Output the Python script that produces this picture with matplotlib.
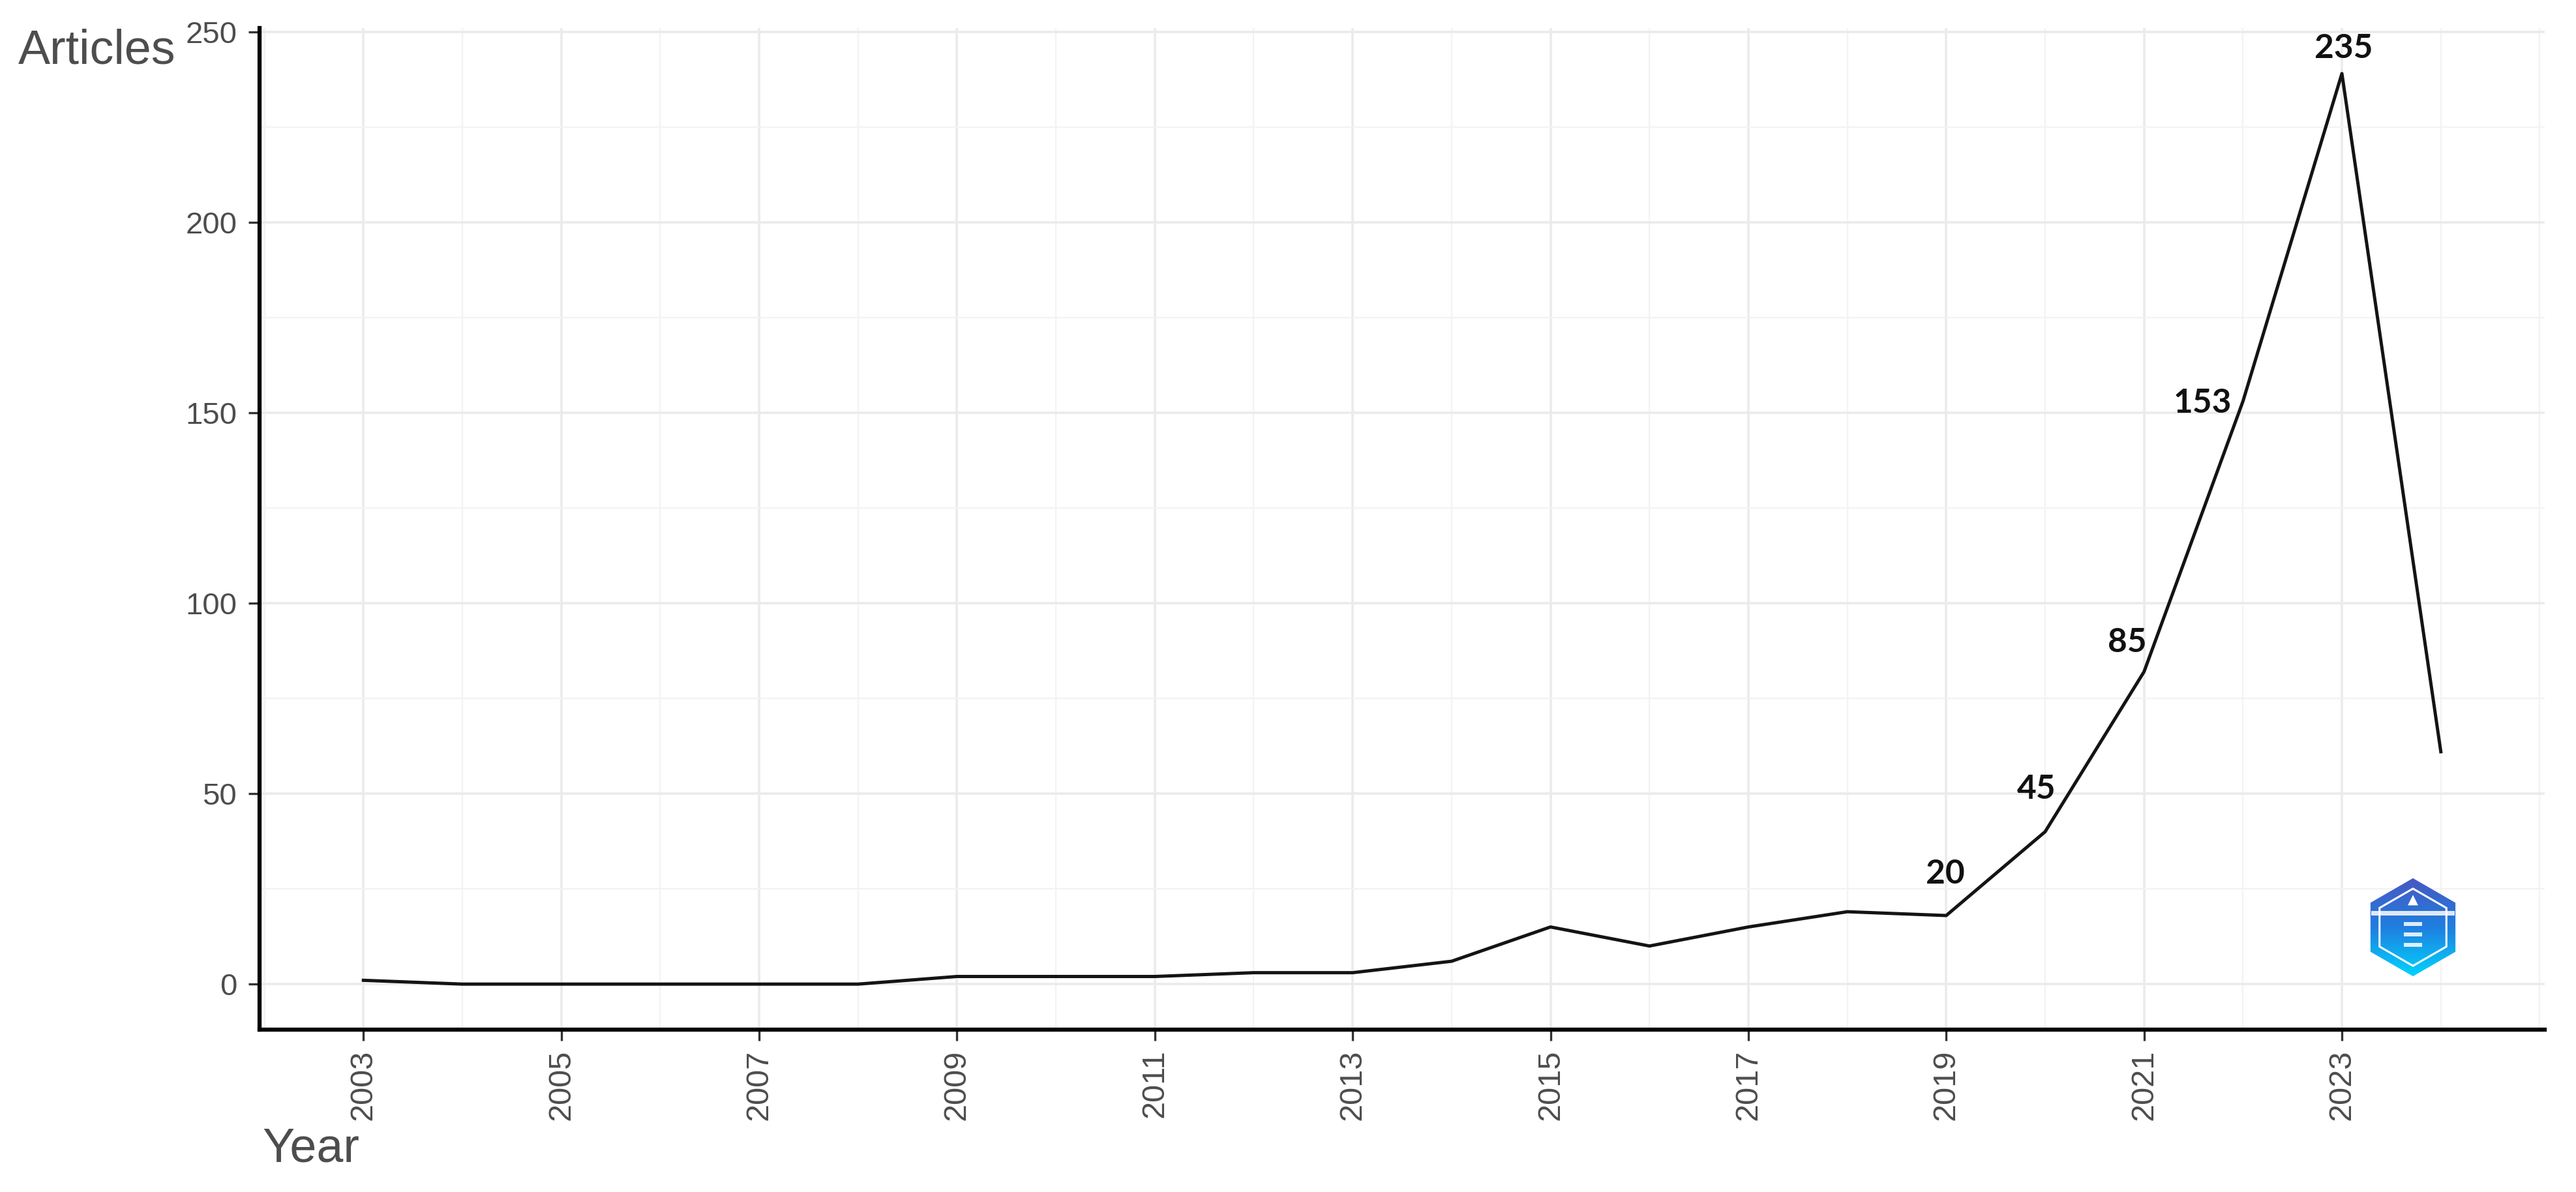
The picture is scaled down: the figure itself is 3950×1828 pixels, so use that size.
import numpy as np
import matplotlib
matplotlib.use("Agg")
import matplotlib.pyplot as plt
from matplotlib.patches import RegularPolygon, Polygon, Rectangle
from matplotlib.ticker import MultipleLocator
from matplotlib.colors import LinearSegmentedColormap

# annual scientific production
years = list(range(2003, 2025))
articles = [1, 0, 0, 0, 0, 0, 2, 2, 2, 3, 3, 6, 15, 10, 15, 19, 18, 40, 82, 153, 239, 61]

# manual value labels placed next to the curve
label_text = ['20', '45', '85', '153', '235']
label_x = [2018.99, 2019.91, 2020.83, 2021.59, 2023.02]
label_y = [28.8, 51.2, 89.7, 152.5, 245.5]

W, H = 3950, 1828
fig = plt.figure(figsize=(W / 100, H / 100), dpi=100)
fig.patch.set_facecolor('white')

ax = fig.add_axes([398 / W, (H - 1579) / H, 3504 / W, 1536 / H])
ax.plot(years, articles, color='#141414', lw=3.6, zorder=3)

ax.set_xlim(2001.95, 2025.05)
ax.set_ylim(-11.95, 250.95)
ax.set_xticks(range(2003, 2024, 2))
ax.xaxis.set_minor_locator(MultipleLocator(1))
ax.set_yticks(range(0, 251, 50))
ax.yaxis.set_minor_locator(MultipleLocator(25))

ax.grid(which='major', color='#ebebeb', lw=2.6)
ax.grid(which='minor', color='#f3f3f3', lw=1.6)
ax.set_axisbelow(True)

for s in ['top', 'right']:
    ax.spines[s].set_visible(False)
for s in ['left', 'bottom']:
    ax.spines[s].set_color('black')
    ax.spines[s].set_linewidth(4.5)

tick_font = dict(family=['Liberation Sans', 'DejaVu Sans'], color='#4d4d4d')
ax.tick_params(which='major', length=12, width=2.4, color='#333333')
ax.tick_params(which='minor', length=0)
ax.tick_params(axis='x', pad=10)
ax.tick_params(axis='y', pad=13)
ax.set_xticklabels([str(y) for y in range(2003, 2024, 2)], rotation=90, size=35, **tick_font)
ax.set_yticklabels([str(v) for v in range(0, 251, 50)], size=34, **tick_font)

for t, x, y in zip(label_text, label_x, label_y):
    ax.text(x, y, t, ha='center', va='center', fontsize=37, fontweight='bold',
            family=['Lato', 'DejaVu Sans'], color='#111111', zorder=4)

title_font = dict(family=['Liberation Sans', 'DejaVu Sans'], size=53, color='#4d4d4d')
fig.text(28 / W, (H - 98) / H, 'Articles', ha='left', va='baseline', **title_font)
fig.text(402 / W, (H - 1781) / H, 'Year', ha='left', va='baseline', **title_font)

# small hexagon logo in the lower right of the panel
lg = fig.add_axes([(3700 - 80) / W, (H - 1422 - 80) / H, 160 / W, 160 / H])
lg.set_xlim(-1, 1)
lg.set_ylim(-1, 1)
lg.set_aspect('equal')
lg.axis('off')
cmap = LinearSegmentedColormap.from_list('logo', ['#4a56c0', '#1f7fe0', '#00d9ff'])
grad = np.linspace(0, 1, 200).reshape(-1, 1)
outer = RegularPolygon((0, 0), 6, radius=0.94, orientation=0, transform=lg.transData,
                       facecolor='none', edgecolor='none')
lg.add_patch(outer)
im = lg.imshow(grad, cmap=cmap, extent=[-1, 1, -1, 1], origin='upper', aspect='auto')
im.set_clip_path(outer)
lg.add_patch(RegularPolygon((0, 0), 6, radius=0.74, orientation=0, facecolor='none',
                            edgecolor='white', lw=2.2))
lg.add_patch(Polygon([[-0.1, 0.42], [0.1, 0.42], [0, 0.62]], closed=True,
                     facecolor='white', edgecolor='none'))
lg.add_patch(Rectangle((-0.8, 0.22), 1.6, 0.09, facecolor='white', edgecolor='none', alpha=0.85))
for yy in [0.02, -0.18, -0.38]:
    lg.add_patch(Rectangle((-0.18, yy), 0.36, 0.08, facecolor='white', edgecolor='none', alpha=0.85))

fig.savefig('out.png', dpi=100, facecolor='white')
